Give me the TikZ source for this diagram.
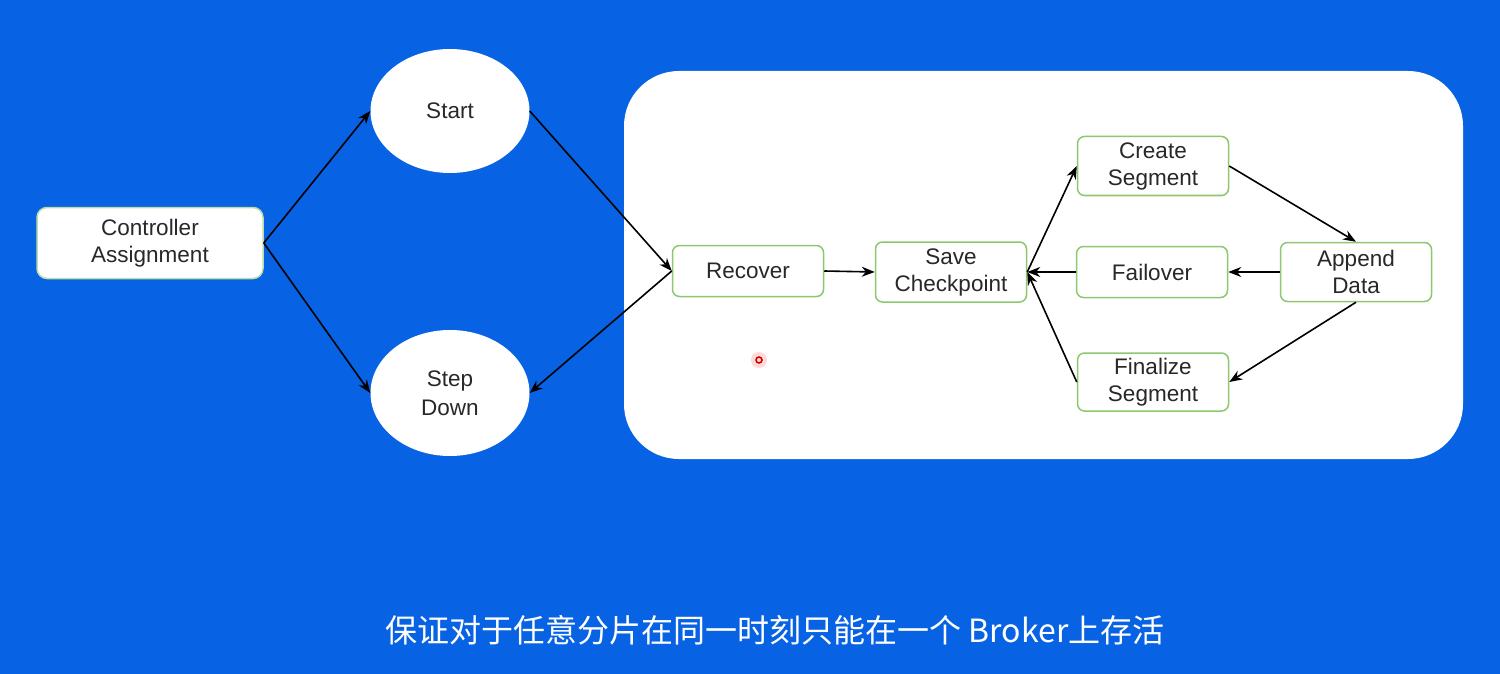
\documentclass[tikz,border=0pt]{standalone}
\usepackage{fontspec}
\setmainfont{Liberation Sans}
\newfontfamily\cjk{Noto Sans CJK SC}
\usetikzlibrary{shapes.geometric,arrows.meta}
\definecolor{bgblue}{RGB}{8,98,228}
\definecolor{boxgreen}{RGB}{140,200,110}
\definecolor{txt}{RGB}{40,40,40}
\tikzset{
  box/.style={draw=boxgreen, line width=1.5pt, fill=white, rounded corners=7pt, minimum width=151pt, minimum height=51pt, inner sep=0pt, align=center, text=txt, font=\fontsize{22.5}{27}\selectfont},
  oval/.style={ellipse, fill=white, minimum width=159pt, minimum height=124pt, inner sep=0pt, align=center, text=txt, font=\fontsize{22.5}{29}\selectfont},
  arr/.style={line width=1.6pt, -{Stealth[length=13pt,width=10pt]}}
}
\begin{document}
\begin{tikzpicture}[x=1pt,y=-1pt]
\fill[bgblue] (0,0) rectangle (1500,674);
\useasboundingbox (0,0) rectangle (1500,674);
% big white panel
\fill[white, rounded corners=55pt] (624,71) rectangle (1463,459);
% nodes
\node[box, minimum width=226pt, minimum height=71pt, draw=boxgreen!60!white, rounded corners=10pt] (ctrl) at (150,243) {Controller\\Assignment};
\node[oval] (start) at (450,111) {Start};
\node[oval, minimum height=126pt] (down) at (450,393) {Step\\Down};
\node[box] (rec) at (748,271) {Recover};
\node[box, minimum height=60pt] (save) at (951,272) {Save\\Checkpoint};
\node[box, minimum height=59pt] (create) at (1153,166) {Create\\Segment};
\node[box] (fail) at (1152,272) {Failover};
\node[box, minimum height=59pt] (append) at (1356,272) {Append\\Data};
\node[box, minimum height=58pt] (final) at (1153,382) {Finalize\\Segment};
% connectors
\draw[arr] (ctrl.east) -- (start.west);
\draw[arr] (ctrl.east) -- (down.west);
\draw[arr] (start.east) -- (rec.west);
\draw[arr] (rec.west) -- (down.east);
\draw[arr] (rec.east) -- (save.west);
\draw[arr] (save.east) -- (create.west);
\draw[arr] (create.east) -- (append.north);
\draw[arr] (append.west) -- (fail.east);
\draw[arr] (fail.west) -- (save.east);
\draw[arr] (append.south) -- (final.east);
\draw[arr] (final.west) -- (save.east);
% pointer dot
\node[circle, fill=red!25, opacity=0.6, minimum size=16pt, inner sep=0pt] (dotglow) at (759,360) {};
\node[circle, draw=red!80!black, line width=1.5pt, minimum size=6pt, inner sep=0pt] (dot) at (759,360) {};
% caption
\node[text=white, font=\cjk\fontsize{32}{36}\selectfont, inner sep=0pt] (cap) at (775,630) {保证对于任意分片在同一时刻只能在一个 Broker上存活};
\end{tikzpicture}
\end{document}
